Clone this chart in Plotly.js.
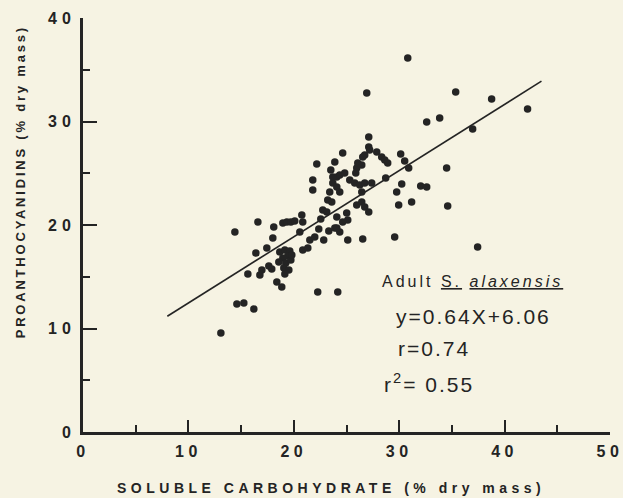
<!DOCTYPE html>
<html>
<head>
<meta charset="utf-8">
<script src="https://cdn.plot.ly/plotly-3.0.1.min.js"></script>
<style>
  html, body { margin: 0; padding: 0; background: #f6f3e3; }
  #chart { width: 623px; height: 498px; }
  .ytick text { letter-spacing: 5px; }
  .xtick text { letter-spacing: 4.5px; }
</style>
</head>
<body>
<div id="chart"></div>
<script>
// Soluble carbohydrate (% dry mass) per sample
const carbohydrate = [
  13.08, 14.60, 15.26, 16.21, 14.41, 16.59, 18.10, 18.96, 19.34, 19.72,
  20.09, 20.76, 20.85, 18.01, 17.44, 20.57, 21.80, 21.80, 22.18, 21.52,
  21.99, 16.40, 15.64, 16.78, 16.97, 17.63, 17.91, 18.39, 18.86, 22.27,
  20.85, 21.33, 23.89, 23.51, 24.08, 23.70, 23.41, 23.22, 23.60, 22.75,
  23.13, 22.56, 22.37, 22.84, 23.32, 23.89, 24.17, 30.81, 26.92, 32.61,
  27.11, 27.11, 27.20, 26.73, 26.54, 24.64, 27.87, 28.34, 28.63, 28.91,
  30.14, 30.52, 30.90, 26.07, 26.45, 25.97, 25.88, 24.36, 24.83, 25.31,
  25.78, 26.26, 26.73, 27.39, 26.45, 28.72, 30.24, 29.76, 32.04, 32.61,
  29.95, 31.18, 24.08, 24.36, 25.97, 26.45, 26.73, 27.11, 25.02, 25.12,
  24.64, 24.08, 24.36, 25.12, 26.54, 29.57, 35.36, 38.77, 42.18, 33.84,
  36.97, 34.50, 34.60, 37.44, 24.08, 18.67, 19.15, 19.62, 19.43, 18.96,
  18.58, 19.24, 19.72, 19.05, 19.53, 19.15, 19.81, 23.70
];
// Proanthocyanidins (% dry mass) per sample
const proanthocyanidins = [
   9.57, 12.37, 12.46, 11.88, 19.32, 20.29, 19.81, 20.19, 20.29, 20.29,
  20.39, 20.97, 20.29, 18.74, 17.78, 19.32, 24.35, 23.38, 25.89, 18.55,
  18.84, 17.29, 15.27, 15.17, 15.65, 16.04, 15.75, 14.49, 14.01, 13.53,
  17.58, 17.78, 26.09, 25.31, 24.64, 24.06, 23.19, 22.42, 22.22, 21.45,
  21.26, 20.58, 19.61, 18.55, 19.42, 19.71, 13.53, 36.14, 32.75, 29.95,
  28.50, 27.54, 27.25, 26.76, 26.57, 26.96, 27.05, 26.57, 26.28, 25.99,
  26.86, 26.18, 25.51, 25.99, 25.80, 25.51, 25.02, 24.83, 25.02, 24.35,
  24.06, 23.86, 24.06, 24.06, 23.19, 24.54, 23.96, 23.19, 23.77, 23.67,
  21.93, 22.22, 23.67, 23.19, 21.93, 22.22, 21.74, 21.26, 21.16, 20.48,
  20.29, 20.77, 19.32, 18.55, 18.65, 18.84, 32.85, 32.17, 31.21, 30.34,
  29.28, 25.51, 21.84, 17.87, 19.71, 17.39, 17.58, 17.49, 17.00, 16.81,
  16.43, 16.33, 16.62, 15.85, 15.65, 15.27, 17.10, 24.64
];

// Least-squares fit y = 0.64x + 6.06 over the sampled range
const slope = 0.64;
const intercept = 6.06;
const fitRange = [8, 43.5];
const fitY = fitRange.map(x => slope * x + intercept);

const ink = '#242424';
const bg = '#f6f3e3';

const traces = [
  {
    x: fitRange, y: fitY, type: 'scatter', mode: 'lines',
    line: { color: ink, width: 1.6 }, hoverinfo: 'skip'
  },
  {
    x: carbohydrate, y: proanthocyanidins, type: 'scatter', mode: 'markers',
    marker: { color: ink, size: 7.5, line: { width: 0 } }
  }
];

const sans = 'Liberation Sans, Arial, sans-serif';
const tickFont = { family: sans, size: 16, color: ink, weight: 'bold' };
const eqFont = { family: sans, size: 21, color: ink };

const layout = {
  width: 623, height: 498,
  margin: { l: 83, r: 13, t: 18, b: 66 },
  paper_bgcolor: bg, plot_bgcolor: bg,
  showlegend: false,
  xaxis: {
    range: [0, 50], tickvals: [0, 10, 20, 30, 40, 50],
    ticks: 'inside', ticklen: 12, tickwidth: 2, tickcolor: ink,
    minor: { dtick: 5, tick0: 0, ticks: 'inside', ticklen: 7, tickwidth: 2, tickcolor: ink },
    showline: true, linecolor: ink, linewidth: 3,
    showgrid: false, zeroline: false,
    tickfont: tickFont, ticklabelstandoff: 3,
    ticklabeloverflow: 'allow'
  },
  yaxis: {
    range: [0, 40], tickvals: [0, 10, 20, 30, 40],
    ticks: 'inside', ticklen: 14, tickwidth: 2, tickcolor: ink,
    minor: { dtick: 5, tick0: 0, ticks: 'inside', ticklen: 7, tickwidth: 2, tickcolor: ink },
    showline: true, linecolor: ink, linewidth: 3,
    showgrid: false, zeroline: false,
    tickfont: tickFont, ticklabelstandoff: 1,
    ticklabeloverflow: 'allow'
  },
  annotations: [
    {
      xref: 'paper', yref: 'paper', x: -0.118, y: 0.605,
      text: '<span style="letter-spacing:2.8px">PROANTHOCYANIDINS (% dry mass)</span>',
      textangle: -90, showarrow: false, xanchor: 'center', yanchor: 'middle',
      font: { family: sans, size: 13, color: ink, weight: 'bold' }
    },
    {
      xref: 'paper', yref: 'paper', x: 0.47, y: -0.135,
      text: '<span style="letter-spacing:4.5px">SOLUBLE CARBOHYDRATE (% dry mass)</span>',
      showarrow: false, xanchor: 'center', yanchor: 'middle',
      font: { family: sans, size: 14, color: ink, weight: 'bold' }
    },
    {
      xref: 'x', yref: 'y', x: 28.15, y: 14.5,
      text: '<span style="letter-spacing:3px">Adult <u>S.</u> <u><i>alaxensis</i></u></span>',
      showarrow: false, xanchor: 'left', yanchor: 'middle',
      font: { family: sans, size: 16, color: ink }
    },
    {
      xref: 'x', yref: 'y', x: 29.5, y: 11.2,
      text: '<span style="letter-spacing:2px">y=0.64X+6.06</span>',
      showarrow: false, xanchor: 'left', yanchor: 'middle', font: eqFont
    },
    {
      xref: 'x', yref: 'y', x: 29.7, y: 8.1,
      text: '<span style="letter-spacing:2px">r=0.74</span>',
      showarrow: false, xanchor: 'left', yanchor: 'middle', font: eqFont
    },
    {
      xref: 'x', yref: 'y', x: 28.4, y: 4.7,
      text: '<span style="letter-spacing:2px">r<sup>2</sup>= 0.55</span>',
      showarrow: false, xanchor: 'left', yanchor: 'middle', font: eqFont
    }
  ]
};

Plotly.newPlot('chart', traces, layout, { displayModeBar: false, staticPlot: true });
</script>
</body>
</html>
